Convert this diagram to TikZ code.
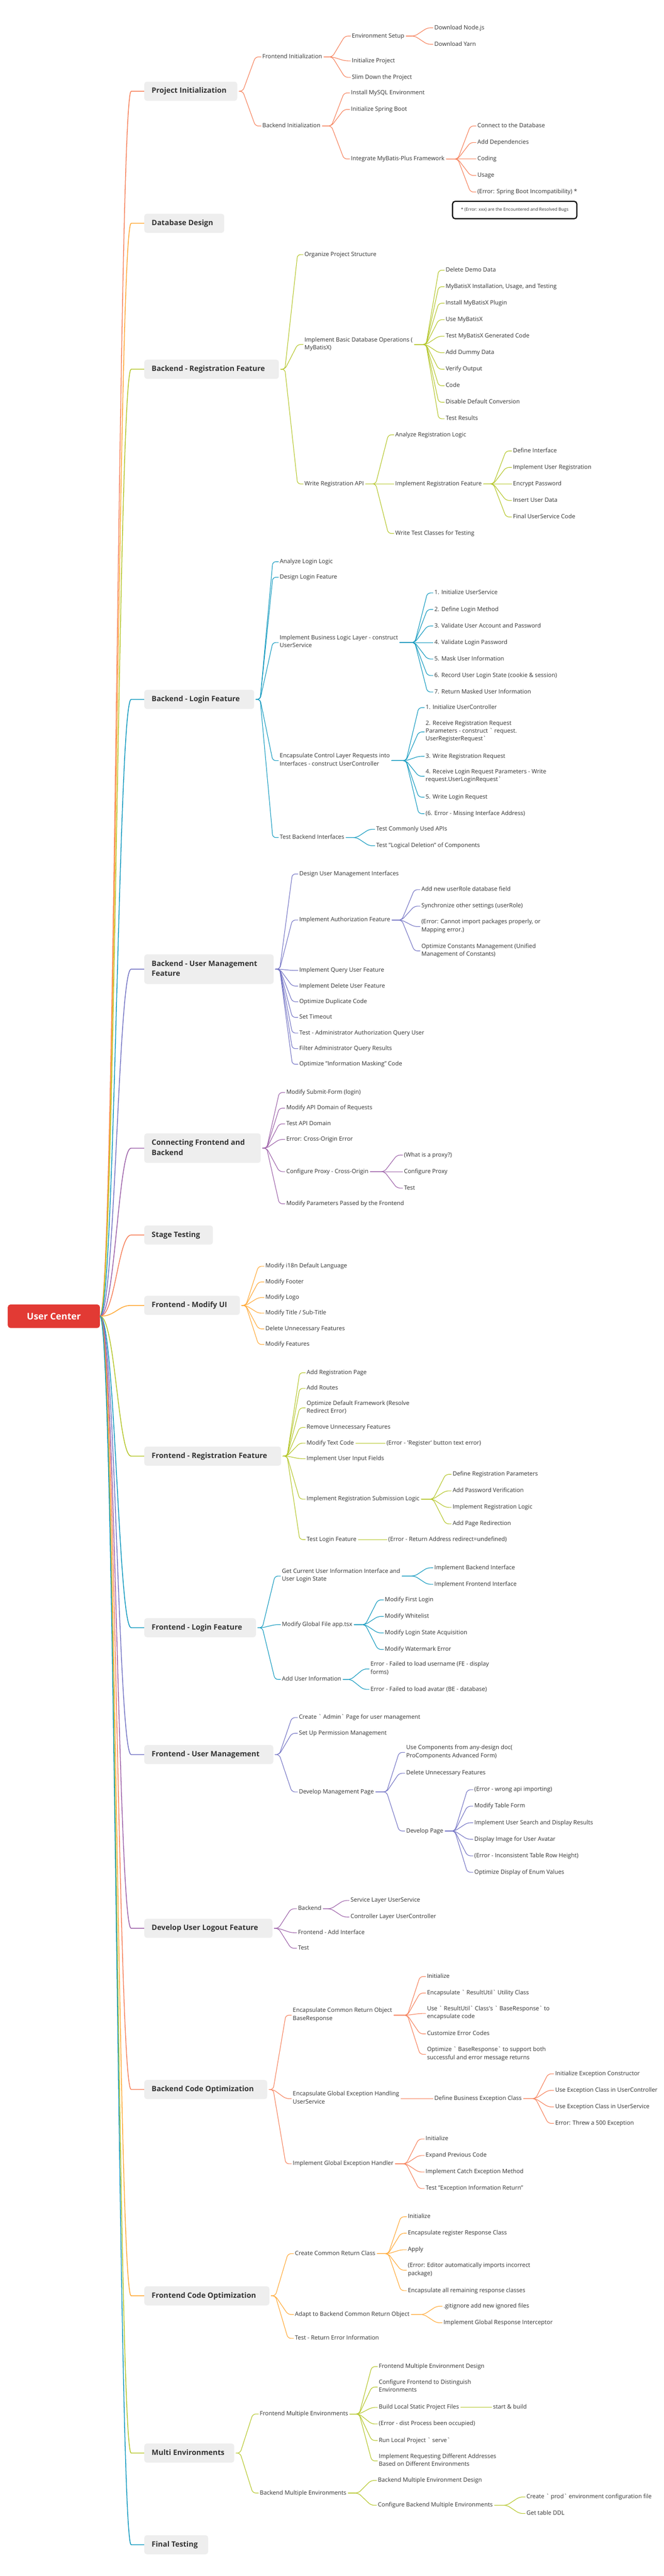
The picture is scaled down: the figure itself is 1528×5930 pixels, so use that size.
\documentclass[tikz,border=0pt]{standalone}
\usepackage{fontspec}
\setmainfont{Open Sans}
\usetikzlibrary{calc}
\definecolor{cCoral}{RGB}{246,128,90}
\definecolor{cOrange}{RGB}{255,168,52}
\definecolor{cLime}{RGB}{180,198,40}
\definecolor{cTeal}{RGB}{14,152,190}
\definecolor{cPeri}{RGB}{115,115,196}
\definecolor{cPurple}{RGB}{156,96,168}
\definecolor{rootred}{RGB}{226,58,52}
\definecolor{boxgray}{RGB}{238,238,238}
\definecolor{txt}{RGB}{51,51,51}
\newcommand\bq{\textasciigrave}
\newcommand\sq{\textquotesingle}
\newcommand\cn[3]{%
  \coordinate (tmpb) at ($(#3.west)+(-45,0)$);
  \draw[ln,#1] ($(#2.east)+(4,0)$) -- (tmpb |- #2.east) -- ($(#3.west)+(-16,0)$) -- ($(#3.west)+(-3,0)$);}
\newcommand\kids[3]{\foreach \kk in {#3}{\edef\tmpk{\noexpand\cn{#1}{#2}{\kk}}\tmpk}}
\begin{document}
\begin{tikzpicture}[x=1pt,y=-1pt,
  ln/.style={line width=1.3pt, rounded corners=7pt, line cap=round},
  rl/.style={line width=1.8pt},
  lf/.style={anchor=west, inner sep=0pt, align=left, font=\fontsize{13.5}{18}\selectfont, text=txt, execute at begin node=\strut, execute at end node=\strut},
  mn/.style={anchor=west, fill=boxgray, rounded corners=6pt, inner xsep=17pt, inner ysep=0pt, minimum height=44pt, text width=#1, align=flush left, font=\bfseries\fontsize{17}{23}\selectfont, text=txt, execute at begin node=\strut, execute at end node=\strut}]
\useasboundingbox (0,0) rectangle (1528,5930);
\fill[white] (0,0) rectangle (1528,5930);

% root
\node[fill=rootred, text=white, rounded corners=6pt, minimum width=212pt, minimum height=54pt, inner sep=0pt, font=\bfseries\fontsize{21}{25}\selectfont] (root) at (124,3030) {User Center};

% main nodes
\node[mn=180pt] (m1) at (332,210) {\mbox{Project Initialization}};
\node[mn=150pt] (m2) at (332,514) {\mbox{Database Design}};
\node[mn=276pt] (m3) at (332,850) {\mbox{Backend - Registration Feature}};
\node[mn=219pt] (m4) at (332,1610) {\mbox{Backend - Login Feature}};
\node[mn=264pt, minimum height=68pt] (m5) at (332,2231) {Backend - User Management\\Feature};
\node[mn=234pt, minimum height=68pt] (m6) at (332,2643) {Connecting Frontend and\\Backend};
\node[mn=124pt] (m7) at (332,2843) {\mbox{Stage Testing}};
\node[mn=186pt] (m8) at (332,3005) {\mbox{Frontend - Modify UI}};
\node[mn=281pt] (m9) at (332,3352) {\mbox{Frontend - Registration Feature}};
\node[mn=223pt] (m10) at (332,3747) {\mbox{Frontend - Login Feature}};
\node[mn=263pt] (m11) at (332,4039) {\mbox{Frontend - User Management}};
\node[mn=261pt] (m12) at (332,4439) {\mbox{Develop User Logout Feature}};
\node[mn=249pt] (m13) at (332,4810) {\mbox{Backend Code Optimization}};
\node[mn=254pt] (m14) at (332,5285) {\mbox{Frontend Code Optimization}};
\node[mn=173pt] (m15) at (332,5647) {\mbox{Multi Environments}};
\node[mn=113pt] (m16) at (332,5858) {\mbox{Final Testing}};

\foreach \m/\c in {m1/cCoral,m2/cOrange,m3/cLime,m4/cTeal,m5/cPeri,m6/cPurple,m7/cCoral,m8/cOrange,m9/cLime,m10/cTeal,m11/cPeri,m12/cPurple,m13/cCoral,m14/cOrange,m15/cLime,m16/cTeal}
  \draw[rl,\c] (root.east) .. controls +(35,0) and ($(\m.west)+(-60,0)$) .. ($(\m.west)+(-30,0)$) -- (\m.west);

% ---------- Project Initialization
\node[lf] (a1) at (604,131) {Frontend Initialization};
\node[lf] (a11) at (810,83) {Environment Setup};
\node[lf] (a111) at (1000,64) {Download Node.js};
\node[lf] (a112) at (1000,102) {Download Yarn};
\node[lf] (a12) at (810,140) {Initialize Project};
\node[lf] (a13) at (810,178) {Slim Down the Project};
\node[lf] (a2) at (604,290) {Backend Initialization};
\node[lf] (a21) at (808,214) {Install MySQL Environment};
\node[lf] (a22) at (808,252) {Initialize Spring Boot};
\node[lf] (a23) at (808,366) {Integrate MyBatis-Plus Framework};
\node[lf] (a231) at (1099,290) {Connect to the Database};
\node[lf] (a232) at (1099,328) {Add Dependencies};
\node[lf] (a233) at (1099,366) {Coding};
\node[lf] (a234) at (1099,404) {Usage};
\node[lf] (a235) at (1099,442) {(Error: Spring Boot Incompatibility) *};
\node[draw=black, line width=2.6pt, rounded corners=6pt, minimum width=286pt, minimum height=40pt, inner sep=0pt, text=txt, font=\fontsize{10}{12}\selectfont] (note) at (1185,483.5) {* (Error: xxx) are the Encountered and Resolved Bugs};
\kids{cCoral}{m1}{a1,a2}
\kids{cCoral}{a1}{a11,a12,a13}
\kids{cCoral}{a11}{a111,a112}
\kids{cCoral}{a2}{a21,a22,a23}
\kids{cCoral}{a23}{a231,a232,a233,a234,a235}

% ---------- Backend - Registration
\node[lf] (b1) at (701,586) {Organize Project Structure};
\node[lf] (b2) at (701,793) {Implement Basic Database Operations (\\MyBatisX)};
\node[lf] (b21) at (1026,622) {Delete Demo Data};
\node[lf] (b22) at (1026,660) {MyBatisX Installation, Usage, and Testing};
\node[lf] (b23) at (1026,698) {Install MyBatisX Plugin};
\node[lf] (b24) at (1026,736) {Use MyBatisX};
\node[lf] (b25) at (1026,774) {Test MyBatisX Generated Code};
\node[lf] (b26) at (1026,812) {Add Dummy Data};
\node[lf] (b27) at (1026,850) {Verify Output};
\node[lf] (b28) at (1026,888) {Code};
\node[lf] (b29) at (1026,926) {Disable Default Conversion};
\node[lf] (b30) at (1026,964) {Test Results};
\node[lf] (b3) at (701,1114) {Write Registration API};
\node[lf] (b31) at (910,1001) {Analyze Registration Logic};
\node[lf] (b32) at (910,1114) {Implement Registration Feature};
\node[lf] (b321) at (1181,1038) {Define Interface};
\node[lf] (b322) at (1181,1076) {Implement User Registration};
\node[lf] (b323) at (1181,1114) {Encrypt Password};
\node[lf] (b324) at (1181,1152) {Insert User Data};
\node[lf] (b325) at (1181,1190) {Final UserService Code};
\node[lf] (b33) at (910,1228) {Write Test Classes for Testing};
\kids{cLime}{m3}{b1,b2,b3}
\kids{cLime}{b2}{b21,b22,b23,b24,b25,b26,b27,b28,b29,b30}
\kids{cLime}{b3}{b31,b32,b33}
\kids{cLime}{b32}{b321,b322,b323,b324,b325}

% ---------- Backend - Login
\node[lf] (c1) at (644,1293) {Analyze Login Logic};
\node[lf] (c2) at (644,1329) {Design Login Feature};
\node[lf] (c3) at (644,1479) {Implement Business Logic Layer - construct\\UserService};
\node[lf] (c31) at (1000,1365) {1. Initialize UserService};
\node[lf] (c32) at (1000,1403) {2. Define Login Method};
\node[lf] (c33) at (1000,1441) {3. Validate User Account and Password};
\node[lf] (c34) at (1000,1479) {4. Validate Login Password};
\node[lf] (c35) at (1000,1517) {5. Mask User Information};
\node[lf] (c36) at (1000,1555) {6. Record User Login State (cookie \& session)};
\node[lf] (c37) at (1000,1593) {7. Return Masked User Information};
\node[lf] (c4) at (644,1751) {Encapsulate Control Layer Requests into\\Interfaces - construct UserController};
\node[lf] (c41) at (980,1629) {1. Initialize UserController};
\node[lf] (c42) at (980,1685) {2. Receive Registration Request\\Parameters - construct \bq{} request.\\UserRegisterRequest\bq};
\node[lf] (c43) at (980,1741) {3. Write Registration Request};
\node[lf] (c44) at (980,1787) {4. Receive Login Request Parameters - Write\\request.UserLoginRequest\bq};
\node[lf] (c45) at (980,1835) {5. Write Login Request};
\node[lf] (c46) at (980,1873) {(6. Error - Missing Interface Address)};
\node[lf] (c5) at (644,1928) {Test Backend Interfaces};
\node[lf] (c51) at (866,1909) {Test Commonly Used APIs};
\node[lf] (c52) at (866,1947) {Test "Logical Deletion" of Components};
\kids{cTeal}{m4}{c1,c2,c3,c4,c5}
\kids{cTeal}{c3}{c31,c32,c33,c34,c35,c36,c37}
\kids{cTeal}{c4}{c41,c42,c43,c44,c45,c46}
\kids{cTeal}{c5}{c51,c52}

% ---------- Backend - User Management
\node[lf] (d1) at (689,2012) {Design User Management Interfaces};
\node[lf] (d2) at (689,2118) {Implement Authorization Feature};
\node[lf] (d21) at (970,2048) {Add new userRole database field};
\node[lf] (d22) at (970,2086) {Synchronize other settings (userRole)};
\node[lf] (d23) at (970,2133) {(Error: Cannot import packages properly, or\\Mapping error.)};
\node[lf] (d24) at (970,2189) {Optimize Constants Management (Unified\\Management of Constants)};
\node[lf] (d3) at (689,2234) {Implement Query User Feature};
\node[lf] (d4) at (689,2270) {Implement Delete User Feature};
\node[lf] (d5) at (689,2306) {Optimize Duplicate Code};
\node[lf] (d6) at (689,2342) {Set Timeout};
\node[lf] (d7) at (689,2378) {Test - Administrator Authorization Query User};
\node[lf] (d8) at (689,2414) {Filter Administrator Query Results};
\node[lf] (d9) at (689,2450) {Optimize "Information Masking" Code};
\kids{cPeri}{m5}{d1,d2,d3,d4,d5,d6,d7,d8,d9}
\kids{cPeri}{d2}{d21,d22,d23,d24}

% ---------- Connecting Frontend and Backend
\node[lf] (e1) at (659,2515) {Modify Submit-Form (login)};
\node[lf] (e2) at (659,2551) {Modify API Domain of Requests};
\node[lf] (e3) at (659,2587) {Test API Domain};
\node[lf] (e4) at (659,2623) {Error: Cross-Origin Error};
\node[lf] (e5) at (659,2697) {Configure Proxy - Cross-Origin};
\node[lf] (e51) at (930,2659) {(What is a proxy?)};
\node[lf] (e52) at (930,2697) {Configure Proxy};
\node[lf] (e53) at (930,2735) {Test};
\node[lf] (e6) at (659,2771) {Modify Parameters Passed by the Frontend};
\kids{cPurple}{m6}{e1,e2,e3,e4,e5,e6}
\kids{cPurple}{e5}{e51,e52,e53}

% ---------- Frontend - Modify UI
\node[lf] (f1) at (611,2915) {Modify i18n Default Language};
\node[lf] (f2) at (611,2951) {Modify Footer};
\node[lf] (f3) at (611,2987) {Modify Logo};
\node[lf] (f4) at (611,3023) {Modify Title / Sub-Title};
\node[lf] (f5) at (611,3059) {Delete Unnecessary Features};
\node[lf] (f6) at (611,3095) {Modify Features};
\kids{cOrange}{m8}{f1,f2,f3,f4,f5,f6}

% ---------- Frontend - Registration
\node[lf] (g1) at (706,3160) {Add Registration Page};
\node[lf] (g2) at (706,3196) {Add Routes};
\node[lf] (g3) at (706,3241) {Optimize Default Framework (Resolve\\Redirect Error)};
\node[lf] (g4) at (706,3286) {Remove Unnecessary Features};
\node[lf] (g5) at (706,3322) {Modify Text Code};
\node[lf] (g51) at (890,3322) {(Error - \sq{}Register\sq{} button text error)};
\node[lf] (g6) at (706,3358) {Implement User Input Fields};
\node[lf] (g7) at (706,3451) {Implement Registration Submission Logic};
\node[lf] (g71) at (1042,3394) {Define Registration Parameters};
\node[lf] (g72) at (1042,3432) {Add Password Verification};
\node[lf] (g73) at (1042,3470) {Implement Registration Logic};
\node[lf] (g74) at (1042,3508) {Add Page Redirection};
\node[lf] (g8) at (706,3544) {Test Login Feature};
\node[lf] (g81) at (894,3544) {(Error - Return Address redirect=undefined)};
\kids{cLime}{m9}{g1,g2,g3,g4,g5,g6,g7,g8}
\kids{cLime}{g5}{g51}
\kids{cLime}{g7}{g71,g72,g73,g74}
\kids{cLime}{g8}{g81}

% ---------- Frontend - Login
\node[lf] (h1) at (649,3628) {Get Current User Information Interface and\\User Login State};
\node[lf] (h11) at (1000,3609) {Implement Backend Interface};
\node[lf] (h12) at (1000,3647) {Implement Frontend Interface};
\node[lf] (h2) at (649,3740) {Modify Global File app.tsx};
\node[lf] (h21) at (886,3683) {Modify First Login};
\node[lf] (h22) at (886,3721) {Modify Whitelist};
\node[lf] (h23) at (886,3759) {Modify Login State Acquisition};
\node[lf] (h24) at (886,3797) {Modify Watermark Error};
\node[lf] (h3) at (649,3866) {Add User Information};
\node[lf] (h31) at (853,3842) {Error - Failed to load username (FE - display\\forms)};
\node[lf] (h32) at (853,3889) {Error - Failed to load avatar (BE - database)};
\kids{cTeal}{m10}{h1,h2,h3}
\kids{cTeal}{h1}{h11,h12}
\kids{cTeal}{h2}{h21,h22,h23,h24}
\kids{cTeal}{h3}{h31,h32}

% ---------- Frontend - User Management
\node[lf] (i1) at (688,3954) {Create \bq{} Admin\bq{}  Page for user management};
\node[lf] (i2) at (688,3990) {Set Up Permission Management};
\node[lf] (i3) at (688,4125) {Develop Management Page};
\node[lf] (i31) at (935,4034) {Use Components from any-design doc(\\ProComponents Advanced Form)};
\node[lf] (i32) at (935,4082) {Delete Unnecessary Features};
\node[lf] (i33) at (935,4215) {Develop Page};
\node[lf] (i331) at (1092,4120) {(Error - wrong api importing)};
\node[lf] (i332) at (1092,4158) {Modify Table Form};
\node[lf] (i333) at (1092,4196) {Implement User Search and Display Results};
\node[lf] (i334) at (1092,4234) {Display Image for User Avatar};
\node[lf] (i335) at (1092,4272) {(Error - Inconsistent Table Row Height)};
\node[lf] (i336) at (1092,4310) {Optimize Display of Enum Values};
\kids{cPeri}{m11}{i1,i2,i3}
\kids{cPeri}{i3}{i31,i32,i33}
\kids{cPeri}{i33}{i331,i332,i333,i334,i335,i336}

% ---------- Develop User Logout
\node[lf] (j1) at (686,4394) {Backend};
\node[lf] (j11) at (807,4375) {Service Layer UserService};
\node[lf] (j12) at (807,4413) {Controller Layer UserController};
\node[lf] (j2) at (686,4449) {Frontend - Add Interface};
\node[lf] (j3) at (686,4485) {Test};
\kids{cPurple}{m12}{j1,j2,j3}
\kids{cPurple}{j1}{j11,j12}

% ---------- Backend Code Optimization
\node[lf] (k1) at (674,4639) {Encapsulate Common Return Object\\BaseResponse};
\node[lf] (k11) at (983,4550) {Initialize};
\node[lf] (k12) at (983,4588) {Encapsulate \bq{} ResultUtil\bq{}  Utility Class};
\node[lf] (k13) at (983,4635) {Use \bq{} ResultUtil\bq{}  Class\sq{}s \bq{} BaseResponse\bq{}  to\\encapsulate code};
\node[lf] (k14) at (983,4682) {Customize Error Codes};
\node[lf] (k15) at (983,4729) {Optimize \bq{} BaseResponse\bq{}  to support both\\successful and error message returns};
\node[lf] (k2) at (674,4831) {Encapsulate Global Exception Handling\\UserService};
\node[lf] (k21) at (1000,4831) {Define Business Exception Class};
\node[lf] (k211) at (1278,4774) {Initialize Exception Constructor};
\node[lf] (k212) at (1278,4812) {Use Exception Class in UserController};
\node[lf] (k213) at (1278,4850) {Use Exception Class in UserService};
\node[lf] (k214) at (1278,4888) {Error: Threw a 500 Exception};
\node[lf] (k3) at (674,4981) {Implement Global Exception Handler};
\node[lf] (k31) at (980,4924) {Initialize};
\node[lf] (k32) at (980,4962) {Expand Previous Code};
\node[lf] (k33) at (980,5000) {Implement Catch Exception Method};
\node[lf] (k34) at (980,5038) {Test "Exception Information Return"};
\kids{cCoral}{m13}{k1,k2,k3}
\kids{cCoral}{k1}{k11,k12,k13,k14,k15}
\kids{cCoral}{k2}{k21}
\kids{cCoral}{k21}{k211,k212,k213,k214}
\kids{cCoral}{k3}{k31,k32,k33,k34}

% ---------- Frontend Code Optimization
\node[lf] (l1) at (679,5188) {Create Common Return Class};
\node[lf] (l11) at (939,5103) {Initialize};
\node[lf] (l12) at (939,5141) {Encapsulate register Response Class};
\node[lf] (l13) at (939,5179) {Apply};
\node[lf] (l14) at (939,5226) {(Error: Editor automatically imports incorrect\\package)};
\node[lf] (l15) at (939,5273) {Encapsulate all remaining response classes};
\node[lf] (l2) at (679,5328) {Adapt to Backend Common Return Object};
\node[lf] (l21) at (1021,5309) {.gitignore add new ignored files};
\node[lf] (l22) at (1021,5347) {Implement Global Response Interceptor};
\node[lf] (l3) at (679,5383) {Test - Return Error Information};
\kids{cOrange}{m14}{l1,l2,l3}
\kids{cOrange}{l1}{l11,l12,l13,l14,l15}
\kids{cOrange}{l2}{l21,l22}

% ---------- Multi Environments
\node[lf] (n1) at (598,5557) {Frontend Multiple Environments};
\node[lf] (n11) at (872,5448) {Frontend Multiple Environment Design};
\node[lf] (n12) at (872,5495) {Configure Frontend to Distinguish\\Environments};
\node[lf] (n13) at (872,5542) {Build Local Static Project Files};
\node[lf] (n131) at (1135,5542) {start \& build};
\node[lf] (n14) at (872,5580) {(Error - dist Process been occupied)};
\node[lf] (n15) at (872,5618) {Run Local Project \bq{} serve\bq};
\node[lf] (n16) at (872,5665) {Implement Requesting Different Addresses\\Based on Different Environments};
\node[lf] (n2) at (598,5739) {Backend Multiple Environments};
\node[lf] (n21) at (870,5710) {Backend Multiple Environment Design};
\node[lf] (n22) at (870,5767) {Configure Backend Multiple Environments};
\node[lf] (n221) at (1212,5748) {Create \bq{} prod\bq{}  environment configuration file};
\node[lf] (n222) at (1212,5786) {Get table DDL};
\kids{cLime}{m15}{n1,n2}
\kids{cLime}{n1}{n11,n12,n13,n14,n15,n16}
\kids{cLime}{n13}{n131}
\kids{cLime}{n2}{n21,n22}
\kids{cLime}{n22}{n221,n222}
\end{tikzpicture}
\end{document}
